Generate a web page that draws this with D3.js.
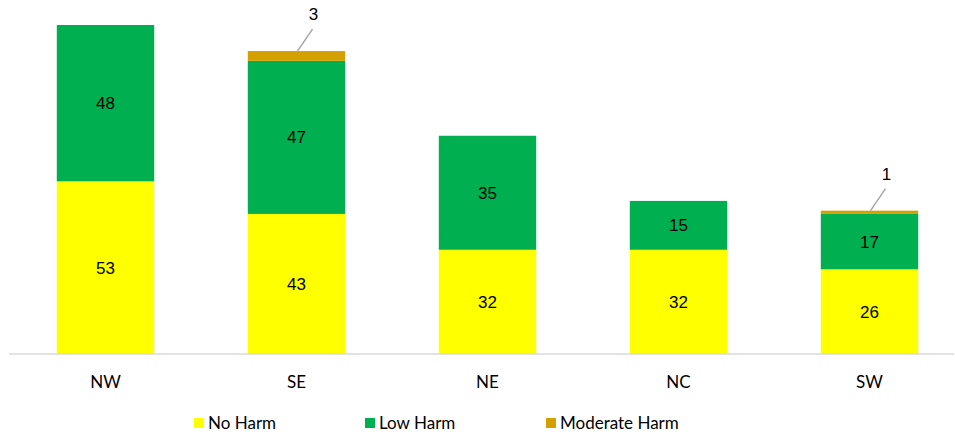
<!DOCTYPE html>
<html>
<head>
<meta charset="utf-8">
<script src="https://cdn.jsdelivr.net/npm/d3@7"></script>
<style>
  html, body { margin: 0; padding: 0; background: #fff; }
  svg { display: block; }
</style>
</head>
<body>
<svg id="chart" width="955" height="437"></svg>
<script>
const categories = ["NW", "SE", "NE", "NC", "SW"];
const seriesNames = ["No Harm", "Low Harm", "Moderate Harm"];
const noHarm = [53, 43, 32, 32, 26];
const lowHarm = [48, 47, 35, 15, 17];
const moderateHarm = [0, 3, 0, 0, 1];
const colors = ["#FFFF00", "#00B050", "#D4A000"];

const svg = d3.select("#chart");
const rows = categories.map((c, i) => ({cat: c, "No Harm": noHarm[i], "Low Harm": lowHarm[i], "Moderate Harm": moderateHarm[i]}));
const stacked = d3.stack().keys(seriesNames)(rows);

const x = d3.scaleBand().domain(categories).range([10, 965]).paddingInner(0.49).paddingOuter(0.245);
const maxTotal = d3.max(rows, r => r["No Harm"] + r["Low Harm"] + r["Moderate Harm"]);
const y = d3.scaleLinear().domain([0, maxTotal]).range([354, 25]);

// bars
stacked.forEach((layer, li) => {
  svg.append("g").selectAll("rect").data(layer).enter().append("rect")
    .attr("x", d => x(d.data.cat))
    .attr("width", x.bandwidth())
    .attr("y", d => y(d[1]))
    .attr("height", d => y(d[0]) - y(d[1]))
    .attr("fill", colors[li]);
});

// axis line
svg.append("line").attr("x1", 9).attr("x2", 954).attr("y1", 354).attr("y2", 354)
  .attr("stroke", "#d9d9d9").attr("stroke-width", 1.5);

// category labels
svg.append("g").selectAll("text").data(categories).enter().append("text")
  .attr("x", d => x(d) + x.bandwidth() / 2)
  .attr("y", 388)
  .attr("text-anchor", "middle")
  .attr("font-family", "Lato, 'Open Sans', sans-serif")
  .attr("font-size", 17)
  .attr("fill", "#000")
  .text(d => d);

// in-bar labels (No Harm, Low Harm)
[0, 1].forEach(li => {
  svg.append("g").selectAll("text").data(stacked[li]).enter().append("text")
    .attr("x", d => x(d.data.cat) + x.bandwidth() / 2)
    .attr("y", d => (y(d[0]) + y(d[1])) / 2 + 6)
    .attr("text-anchor", "middle")
    .attr("font-family", "'Liberation Sans', Arial, sans-serif")
    .attr("font-size", 17)
    .attr("fill", "#000")
    .text(d => d[1] - d[0]);
});

// moderate harm callouts
const mod = stacked[2].filter(d => d[1] - d[0] > 0);
const cg = svg.append("g");
mod.forEach(d => {
  const cx = x(d.data.cat) + x.bandwidth() / 2;
  const top = y(d[1]);
  cg.append("line")
    .attr("x1", cx + 1).attr("y1", top)
    .attr("x2", cx + 16).attr("y2", top - 22)
    .attr("stroke", "#a6a6a6").attr("stroke-width", 1.5);
  cg.append("text")
    .attr("x", cx + 17).attr("y", top - 31)
    .attr("text-anchor", "middle")
    .attr("font-family", "'Liberation Sans', Arial, sans-serif")
    .attr("font-size", 17)
    .attr("fill", "#000")
    .text(d[1] - d[0]);
});

// legend
const legendX = [194, 365, 546];
const lg = svg.append("g");
seriesNames.forEach((s, i) => {
  lg.append("rect").attr("x", legendX[i]).attr("y", 418).attr("width", 10).attr("height", 10).attr("fill", colors[i]);
  lg.append("text").attr("x", legendX[i] + 14).attr("y", 429)
    .attr("font-family", "Lato, 'Open Sans', sans-serif")
    .attr("font-size", 17)
    .attr("fill", "#000")
    .text(s);
});
</script>
</body>
</html>
